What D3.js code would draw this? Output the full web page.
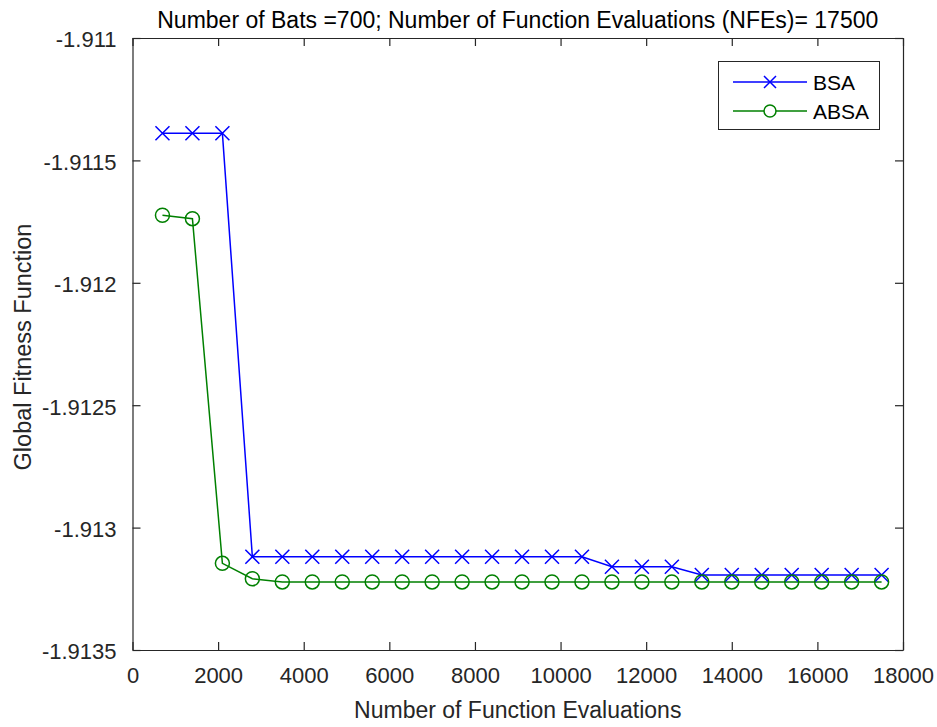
<!DOCTYPE html>
<html><head><meta charset="utf-8">
<script src="https://cdn.jsdelivr.net/npm/d3@7"></script>
<style>body{margin:0;background:#fff;} svg{display:block;} text{font-family:"Liberation Sans",Arial,sans-serif;}</style>
</head><body>
<svg id="c" width="937" height="727"></svg>
<script>
const nfe = [700,1400,2100,2800,3500,4200,4900,5600,6300,7000,7700,8400,9100,9800,10500,11200,11900,12600,13300,14000,14700,15400,16100,16800,17500];
const bsa = [-1.911389,-1.911389,-1.911389,-1.913119,-1.913119,-1.913119,-1.913119,-1.913119,-1.913119,-1.913119,-1.913119,-1.913119,-1.913119,-1.913119,-1.913119,-1.913160,-1.913160,-1.913160,-1.913194,-1.913194,-1.913194,-1.913194,-1.913194,-1.913194,-1.913194];
const absa = [-1.911724,-1.911738,-1.913146,-1.913209,-1.913222,-1.913222,-1.913222,-1.913222,-1.913222,-1.913222,-1.913222,-1.913222,-1.913222,-1.913222,-1.913222,-1.913222,-1.913222,-1.913222,-1.913222,-1.913222,-1.913222,-1.913222,-1.913222,-1.913222,-1.913222];
const xTicks = [0,2000,4000,6000,8000,10000,12000,14000,16000,18000];
const yTicks = [-1.911,-1.9115,-1.912,-1.9125,-1.913,-1.9135];
const seriesNames = ["BSA","ABSA"];
const colors = ["#0000ff","#008000"];

const L=132.5, R=903, T=38, B=650;
const svg = d3.select("#c");
const x = d3.scaleLinear().domain([0,18000]).range([L,R]);
const y = d3.scaleLinear().domain([-1.9135,-1.911]).range([B,T]);
const axCol = "#262626";

const gx = svg.append("g").attr("transform",`translate(0,${B})`)
  .call(d3.axisBottom(x).tickValues(xTicks).tickSizeInner(-8).tickSizeOuter(0).tickPadding(17).tickFormat(d3.format("d")));
const gxt = svg.append("g").attr("transform",`translate(0,${T})`)
  .call(d3.axisTop(x).tickValues(xTicks).tickSizeInner(-8).tickSizeOuter(0).tickFormat(""));
const gy = svg.append("g").attr("transform",`translate(${L},0)`)
  .call(d3.axisLeft(y).tickValues(yTicks).tickSizeInner(-8).tickSizeOuter(0).tickPadding(16).tickFormat(d=>String(d)));
const gyr = svg.append("g").attr("transform",`translate(${R},0)`)
  .call(d3.axisRight(y).tickValues(yTicks).tickSizeInner(-8).tickSizeOuter(0).tickFormat(""));
[gx,gxt,gy,gyr].forEach(g=>{
  g.select(".domain").attr("stroke",axCol).attr("stroke-width",1.2);
  g.selectAll(".tick line").attr("stroke",axCol).attr("stroke-width",1.2);
  g.selectAll(".tick text").attr("fill","#262626").style("font-size","22px").style("font-family","'Liberation Sans',Arial,sans-serif");
});
gy.selectAll(".tick text").attr("dy","0.4em");

const line = d3.line().x((d,i)=>x(nfe[i])).y(d=>y(d));
const data = [bsa, absa];
data.forEach((s,k)=>{
  svg.append("path").datum(s).attr("d",line).attr("fill","none").attr("stroke",colors[k]).attr("stroke-width",1.5);
});
function cross(g,cx,cy,col,r){
  g.append("path").attr("d",`M${cx-r},${cy-r}L${cx+r},${cy+r}M${cx-r},${cy+r}L${cx+r},${cy-r}`).attr("stroke",col).attr("stroke-width",1.5).attr("fill","none");
}
bsa.forEach((v,i)=>cross(svg,x(nfe[i]),y(v),colors[0],7));
absa.forEach((v,i)=>svg.append("circle").attr("cx",x(nfe[i])).attr("cy",y(v)).attr("r",7).attr("fill","none").attr("stroke",colors[1]).attr("stroke-width",1.5));

// title and labels
svg.append("text").attr("x",(L+R)/2).attr("y",28).attr("text-anchor","middle").style("font-size","23px").attr("fill","#000")
  .text("Number of Bats =700; Number of Function Evaluations (NFEs)= 17500");
svg.append("text").attr("x",(L+R)/2).attr("y",718).attr("text-anchor","middle").style("font-size","23px").attr("fill","#262626")
  .text("Number of Function Evaluations");
svg.append("text").attr("transform",`translate(31,${(T+B)/2+3}) rotate(-90)`).attr("text-anchor","middle").style("font-size","23.5px").attr("fill","#262626")
  .text("Global Fitness Function");

// legend
const lg = svg.append("g");
lg.append("rect").attr("x",718.5).attr("y",61.5).attr("width",161).attr("height",68).attr("fill","#fff").attr("stroke","#262626").attr("stroke-width",1);
const ly = [82,111];
seriesNames.forEach((n,k)=>{
  lg.append("line").attr("x1",733).attr("x2",807).attr("y1",ly[k]).attr("y2",ly[k]).attr("stroke",colors[k]).attr("stroke-width",1.5);
  if(k===0) cross(lg,770,ly[k],colors[0],6);
  else lg.append("circle").attr("cx",770).attr("cy",ly[k]).attr("r",6).attr("fill","#fff").attr("stroke",colors[1]).attr("stroke-width",1.5);
  lg.append("text").attr("x",813).attr("y",ly[k]+7.5).style("font-size","21px").attr("fill","#000").text(n);
});
</script>
</body></html>
